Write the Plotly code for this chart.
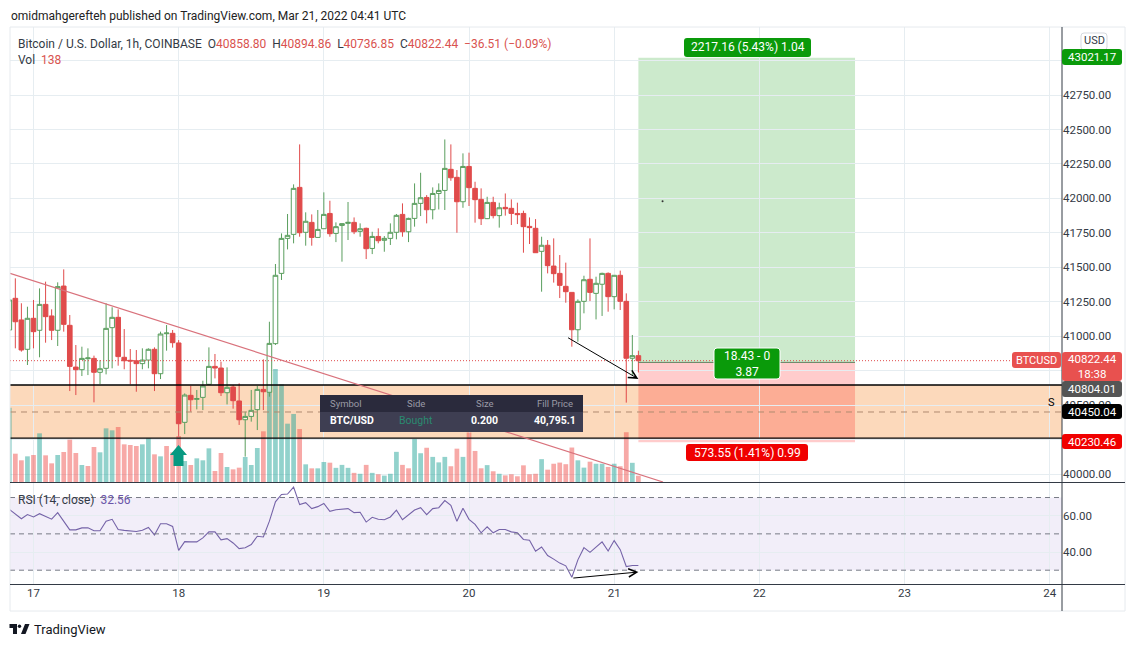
from datetime import datetime, timedelta
import plotly.graph_objects as go

W = 1136
H = 647

opens = [41045,41275,41118,40905,41130,41043,41231,41147,41043,41364,
         41079,40776,40757,40837,40839,40738,40767,41062,41137,40847,
         40825,40822,40801,40827,40905,40728,41018,41021,40951,40375,
         40571,40542,40556,40651,40781,40769,40590,40631,40530,40394,
         40418,40467,40614,40593,40946,41456,41710,41739,42080,41754,
         41826,41717,41780,41891,41746,41804,41819,41826,41761,41783,
         41637,41724,41696,41710,41754,41884,41758,41855,41964,42007,
         41918,42036,42058,42211,42153,41976,42232,42073,41993,41853,
         41971,41875,41935,41928,41891,41891,41797,41783,41616,41660,
         41509,41456,41362,41318,41047,41253,41413,41311,41377,41456,
         41287,41442,41253,40840,40858.80]
highs = [41275,41420,41239,41214,41263,41347,41396,41195,41391,41485,
         41154,40936,40924,40912,40859,40827,41239,41210,41195,41052,
         40907,40900,40912,40912,40919,41033,41081,41045,40972,40585,
         40639,40610,40677,40919,40871,40815,40774,40646,40658,40452,
         40610,40639,40832,41105,41524,41746,41887,42102,42392,41899,
         41884,41916,42044,41983,41826,41819,41974,41862,41819,41788,
         41758,41783,41727,41819,41887,41964,41860,42109,42186,42024,
         42080,42109,42428,42392,42206,42327,42332,42121,42073,42012,
         42012,41969,42036,41993,41969,41911,41862,41850,41722,41698,
         41710,41589,41534,41318,41267,41439,41710,41432,41461,41463,
         41444,41476,41311,41009,40894.86]
lows = [40912,40912,40888,40791,40912,40847,40953,40972,40929,41033,
        40602,40573,40711,40718,40520,40653,40723,40767,40786,40760,
        40651,40597,40760,40767,40602,40689,40895,40917,40271,40290,
        40452,40469,40464,40646,40694,40566,40505,40474,40356,40126,
        40380,40319,40464,40561,40936,41408,41630,41674,41722,41657,
        41657,41715,41778,41722,41683,41541,41698,41741,41722,41560,
        41596,41674,41613,41662,41703,41722,41683,41795,41872,41819,
        41848,41920,41916,42128,41751,41932,41945,41824,41807,41850,
        41855,41788,41875,41807,41814,41606,41669,41604,41323,41456,
        41389,41277,41243,40924,40960,41166,41255,41122,41147,41178,
        41195,41190,40518,40719,40736.85]
closes = [41263,41105,40900,41130,41033,41231,41142,41043,41360,41086,
          40781,40757,40839,40842,40738,40764,41057,41137,40852,40822,
          40820,40801,40827,40905,40728,41016,41023,40953,40365,40573,
          40539,40547,40639,40781,40769,40590,40629,40532,40394,40418,
          40462,40614,40597,40948,41442,41710,41732,42073,41751,41834,
          41717,41775,41884,41744,41795,41817,41826,41758,41780,41635,
          41724,41693,41710,41754,41877,41758,41855,41964,42005,41918,
          42036,42058,42218,42150,41976,42232,42078,41991,41853,41971,
          41875,41932,41925,41891,41882,41795,41788,41606,41660,41512,
          41454,41369,41323,41047,41253,41410,41318,41384,41456,41287,
          41442,41253,40840,40859,40822.44]
volumes = [1628,620,475,562,591,1066,584,409,591,657,
           927,635,372,350,767,650,1175,1132,1205,825,
           810,788,825,956,606,562,788,650,1007,460,
           372,518,475,737,241,635,328,277,314,547,
           372,745,1110,2139,2475,2139,1277,1489,1161,387,
           299,299,438,423,310,375,310,200,180,375,
           200,170,140,180,660,375,300,940,630,750,
           550,430,550,345,730,550,1085,680,300,370,
           235,180,145,170,125,365,170,180,500,270,
           400,425,390,755,475,315,445,400,400,330,
           400,345,1090,420,138]
# bars that are pink although the candle closed up
vol_red_anyway = [13, 26, 66]
rsi = [63.5,61.1,58.3,60.6,59.3,61.1,59.8,58.1,61.7,56.9,
       52.2,52.2,53.3,53.3,51.7,51.7,57.0,58.0,52.4,51.9,
       51.7,51.3,52.0,53.5,49.4,55.6,55.6,54.1,40.9,45.7,
       45.6,45.6,47.8,51.1,51.1,46.7,47.4,45.0,41.9,42.4,
       44.1,48.7,48.3,57.0,67.6,71.7,71.9,75.7,66.1,67.2,
       63.9,65.0,66.7,62.4,63.3,63.7,63.9,61.7,61.9,56.5,
       59.1,58.0,57.8,59.3,63.0,57.8,60.6,63.1,64.4,60.6,
       63.9,64.4,68.3,65.7,56.9,64.1,58.0,55.2,50.6,53.9,
       50.6,52.4,52.4,51.1,50.6,46.9,46.5,40.4,42.8,38.1,
       36.1,33.9,32.4,26.1,35.7,42.4,39.8,42.6,45.6,40.6,
       46.3,41.3,32.0,32.6,32.56]

price_ticks = [40000,40250,40500,40750,41000,41250,41500,41750,42000,42250,42500,42750,43000]
# 40250, 40750 and 43000 sit under the coloured tags, so they get no text
price_labels = ["40000.00","","40500.00","","41000.00","41250.00","41500.00","41750.00","42000.00","42250.00","42500.00","42750.00",""]
rsi_ticks = [40, 60]
day_ticks = ["2022-03-17","2022-03-18","2022-03-19","2022-03-20","2022-03-21","2022-03-22","2022-03-23","2022-03-24"]
day_labels = ["17","18","19","20","21","22","23","24"]

band_top = 40646
band_mid = 40450.04
band_bottom = 40261
entry = 40810
target = 43021.17
stop = 40230.46
last_price = 40822.44

table_head = ["Symbol", "Side", "Size", "Fill Price"]
table_row = ["BTC/USD", "Bought", "0.200", "40,795.1"]

GREEN = "#5a9e5e"
RED = "#e04b4b"
INK = "#333a45"
FONT = "Roboto"

start = datetime(2022, 3, 16, 20)
times = [start + timedelta(hours=i) for i in range(len(opens))]


def px(x):
    return x / W


def py(y):
    return 1 - y / H


def label(x, y, text, size=11, color=INK, bg=None, w=None, h=None, xanchor="center", **kw):
    fig.add_annotation(xref="paper", yref="paper", x=px(x), y=py(y), text=text, showarrow=False,
                       font=dict(family=FONT, size=size, color=color), bgcolor=bg, width=w, height=h,
                       xanchor=xanchor, yanchor="middle", borderpad=0, **kw)


def box(x0, y0, x1, y1, fill, line=None):
    fig.add_shape(type="rect", xref="paper", yref="paper", x0=px(x0), x1=px(x1), y0=py(y0), y1=py(y1),
                  fillcolor=fill, line=dict(color=line, width=1) if line else dict(width=0))


def tag(x0, y0, x1, y1, fill, line=None, r=3):
    # rounded rectangle behind a price or position label
    p = lambda a, b: "%.5f,%.5f" % (px(a), py(b))
    d = ("M" + p(x0 + r, y0) + "L" + p(x1 - r, y0) + "Q" + p(x1, y0) + " " + p(x1, y0 + r)
         + "L" + p(x1, y1 - r) + "Q" + p(x1, y1) + " " + p(x1 - r, y1)
         + "L" + p(x0 + r, y1) + "Q" + p(x0, y1) + " " + p(x0, y1 - r)
         + "L" + p(x0, y0 + r) + "Q" + p(x0, y0) + " " + p(x0 + r, y0) + "Z")
    fig.add_shape(type="path", xref="paper", yref="paper", path=d, fillcolor=fill,
                  line=dict(color=line, width=1) if line else dict(width=0))


def rule(x0, y0, x1, y1, color="#333a45", width=1):
    fig.add_shape(type="line", xref="paper", yref="paper", x0=px(x0), x1=px(x1), y0=py(y0), y1=py(y1),
                  line=dict(color=color, width=width))


def poly(points, fill):
    d = "M" + "L".join("%.5f,%.5f" % (px(a), py(b)) for a, b in points) + "Z"
    fig.add_shape(type="path", xref="paper", yref="paper", path=d, fillcolor=fill, line=dict(width=0))


fig = go.Figure()

vol_colors = []
for i in range(len(opens)):
    if closes[i] < opens[i] or i in vol_red_anyway:
        vol_colors.append("rgba(239,83,80,0.5)")
    else:
        vol_colors.append("rgba(38,166,154,0.5)")

fig.add_trace(go.Bar(x=times, y=volumes, marker=dict(color=vol_colors, line=dict(width=0)),
                     xaxis="x", yaxis="y"))
fig.add_trace(go.Candlestick(x=times, open=opens, high=highs, low=lows, close=closes,
                             xaxis="x", yaxis="y2", whiskerwidth=0,
                             increasing=dict(line=dict(color=GREEN, width=1), fillcolor="rgba(255,255,255,0.6)"),
                             decreasing=dict(line=dict(color=RED, width=1), fillcolor=RED)))
fig.add_trace(go.Scatter(x=times, y=rsi, mode="lines", line=dict(color="#7563a8", width=1.1),
                         xaxis="x2", yaxis="y3"))
# stray dot of the drawing tool inside the green box
fig.add_trace(go.Scatter(x=[datetime(2022, 3, 21, 8)], y=[41980], mode="markers",
                         marker=dict(size=2, color="#333333"), xaxis="x", yaxis="y2"))

grid = "#e6edf1"
tick_font = dict(family=FONT, size=11.5, color=INK)
fig.update_layout(
    width=W, height=H, margin=dict(l=0, r=0, t=0, b=0),
    paper_bgcolor="white", plot_bgcolor="white", showlegend=False, bargap=0.22, boxgap=0.1, boxgroupgap=0.15,
    font=dict(family=FONT, size=11, color=INK),
    xaxis=dict(domain=[px(10), px(1062)], range=[start + timedelta(minutes=7), datetime(2022, 3, 24, 2, 2)],
               type="date", tickvals=day_ticks, showticklabels=False, gridcolor=grid, ticks="",
               rangeslider=dict(visible=False), anchor="y", showline=False, zeroline=False),
    xaxis2=dict(domain=[px(10), px(1062)], matches="x", type="date", tickvals=day_ticks, ticktext=day_labels,
                gridcolor=grid, ticklen=15, tickcolor="rgba(0,0,0,0)", anchor="y3",
                tickfont=tick_font, showline=False, zeroline=False),
    yaxis=dict(domain=[py(482), py(27)], range=[0, 9965], visible=False, anchor="x", fixedrange=True),
    yaxis2=dict(domain=[py(482), py(27)], range=[39942, 43244], overlaying="y", side="right", anchor="x",
                tickvals=price_ticks, ticktext=price_labels, gridcolor=grid, showgrid=True,
                ticklen=9, tickcolor="rgba(0,0,0,0)", zeroline=False, tickfont=tick_font),
    yaxis3=dict(domain=[py(584), py(483)], range=[22.4, 78.0], side="right", anchor="x2",
                tickvals=rsi_ticks, ticktext=["%.2f" % v for v in rsi_ticks], gridcolor=grid,
                ticklen=9, tickcolor="rgba(0,0,0,0)", zeroline=False, tickfont=tick_font),
)

# support band
fig.add_shape(type="rect", xref="paper", yref="y2", x0=px(10), x1=px(1062), y0=band_bottom, y1=band_top,
              fillcolor="rgba(245,130,30,0.3)", line=dict(width=0), layer="below")
for level in [band_top, band_bottom]:
    fig.add_shape(type="line", xref="paper", yref="y2", x0=px(10), x1=px(1062), y0=level, y1=level,
                  line=dict(color="black", width=1.3))
fig.add_shape(type="line", xref="paper", yref="y2", x0=px(10), x1=px(1062), y0=band_mid, y1=band_mid,
              line=dict(color="#b08a70", width=1, dash="6px,5px"))

# long position box
pos_x0 = datetime(2022, 3, 21, 4)
pos_x1 = datetime(2022, 3, 22, 15, 49)
fig.add_shape(type="rect", xref="x", yref="y2", x0=pos_x0, x1=pos_x1, y0=entry, y1=target,
              fillcolor="rgba(0,150,0,0.2)", line=dict(width=0), layer="below")
fig.add_shape(type="rect", xref="x", yref="y2", x0=pos_x0, x1=pos_x1, y0=stop, y1=entry,
              fillcolor="rgba(255,0,0,0.2)", line=dict(width=0), layer="below")
fig.add_shape(type="line", xref="x", yref="y2", x0=pos_x0, x1=pos_x1, y0=entry, y1=entry,
              line=dict(color="#5f7f5f", width=1))

# last price dotted line
fig.add_shape(type="line", xref="paper", yref="y2", x0=px(10), x1=px(1012), y0=last_price, y1=last_price,
              line=dict(color=RED, width=1, dash="1px,2px"))

# falling trendline
fig.add_shape(type="line", xref="x", yref="y2", x0=datetime(2022, 3, 16, 20, 7), y0=41456,
              x1=datetime(2022, 3, 21, 8, 4), y1=39942, line=dict(color="#d9727c", width=1.2))

# rsi band
fig.add_shape(type="rect", xref="paper", yref="y3", x0=px(10), x1=px(1062), y0=30, y1=70,
              fillcolor="rgba(126,87,194,0.1)", line=dict(width=0), layer="below")
for level in [70, 50, 30]:
    fig.add_shape(type="line", xref="paper", yref="y3", x0=px(10), x1=px(1062), y0=level, y1=level,
                  line=dict(color="#787b86", width=1, dash="5px,4px"))

# frame and pane borders
fig.add_shape(type="rect", xref="paper", yref="paper", x0=px(10), x1=px(1125), y0=py(611), y1=py(27),
              line=dict(color="#e6eaee", width=1))
rule(10, 482.5, 1125, 482.5)
rule(10, 584.5, 1125, 584.5)
rule(1062, 27, 1062, 611)

# hand drawn arrows
fig.add_annotation(xref="x", yref="y2", axref="x", ayref="y2",
                   x=datetime(2022, 3, 21, 4), y=40690, ax=datetime(2022, 3, 20, 16, 8), ay=40995,
                   showarrow=True, arrowhead=5, arrowsize=1.6, arrowwidth=1, arrowcolor="black", text="")
fig.add_annotation(xref="x2", yref="y3", axref="x2", ayref="y3",
                   x=datetime(2022, 3, 21, 4), y=29.0, ax=datetime(2022, 3, 20, 17), ay=25.6,
                   showarrow=True, arrowhead=5, arrowsize=1.6, arrowwidth=1, arrowcolor="black", text="")

# buy arrow
poly([(178.5, 445), (187, 455), (183.5, 455), (183.5, 466), (173.5, 466), (173.5, 455), (170, 455)], "#089981")

# order table
box(320, 395, 583, 412, "#2a2a3c")
box(320, 412, 583, 432, "#3e3e52")
head_x = [329, 416, 484.5, 574]
row_x = [329, 416, 484.5, 577]
anchors = ["left", "center", "center", "right"]
for k in range(4):
    label(head_x[k], 403, table_head[k], size=9.5, color="#9a9aa6", xanchor=anchors[k])
    txt = "<b>%s</b>" % table_row[k] if k != 1 else table_row[k]
    label(row_x[k], 420, txt, size=10.5, color="#2a8a70" if k == 1 else "white", xanchor=anchors[k])

# header texts
red = "color:#d9534f"
label(10, 16, "omidmahgerefteh published on TradingView.com, Mar 21, 2022 04:41 UTC", size=12, color="#222222", xanchor="left")
label(17, 44, "Bitcoin / U.S. Dollar, 1h, COINBASE  O<span style='%s'>40858.80</span>  H<span style='%s'>40894.86</span>"
      "  L<span style='%s'>40736.85</span>  C<span style='%s'>40822.44</span>  <span style='%s'>−36.51 (−0.09%%)</span>"
      % (red, red, red, red, red), size=12, xanchor="left")
label(17, 60, "Vol  <span style='%s'>138</span>" % red, size=12, xanchor="left")
label(17, 500, "RSI (14, close)  <span style='color:#6a55a8'>32.56</span>", size=12, xanchor="left")

# position labels
tag(684, 38, 811, 57, "#0a9a0a")
label(747.5, 47.5, "2217.16 (5.43%) 1.04", size=12, color="white")
tag(714, 348, 780, 379, "#0a9a0a", line="white")
label(747, 363.5, "18.43 - 0<br>3.87", size=12, color="white")
tag(686, 444, 808, 461, "#f00000")
label(747, 452.5, "573.55 (1.41%) 0.99", size=12, color="white")
label(1051, 402, "S", size=11, color="black")

# price scale tags
tag(1081, 33, 1107, 50, "white", line="#d5d9de")
label(1094, 41, "USD", size=11, color=INK)
tag(1062, 49, 1122, 65, "#0a9a0a")
label(1092, 57, "43021.17", size=11.5, color="white")
tag(1062, 352, 1122, 381, "#e8514f")
label(1092, 366.5, "40822.44<br>18:38", size=11.5, color="white")
tag(1062, 381, 1122, 397, "#555555")
label(1092, 389, "40804.01", size=11.5, color="white")
tag(1062, 404, 1122, 419, "black")
label(1092, 411.5, "40450.04", size=11.5, color="white")
tag(1062, 434, 1122, 449, "#f00000")
label(1092, 441.5, "40230.46", size=11.5, color="white")
tag(1012, 352, 1061, 368, "#e8514f")
label(1036.5, 360, "BTCUSD", size=11, color="white")

# footer logo
poly([(9.5, 624), (17, 624), (17, 634), (13, 634), (13, 628), (9.5, 628)], "#131722")
poly([(25, 624), (29.5, 624), (25.5, 634), (21, 634)], "#131722")
fig.add_shape(type="circle", xref="paper", yref="paper", x0=px(17.8), x1=px(21.2), y0=py(628), y1=py(624.6),
              fillcolor="#131722", line=dict(width=0))
label(33, 629, "TradingView", size=13, color="#131722", xanchor="left")

fig.write_html("out.html", config=dict(displayModeBar=False),
               post_script="document.body.style.margin='0';")
